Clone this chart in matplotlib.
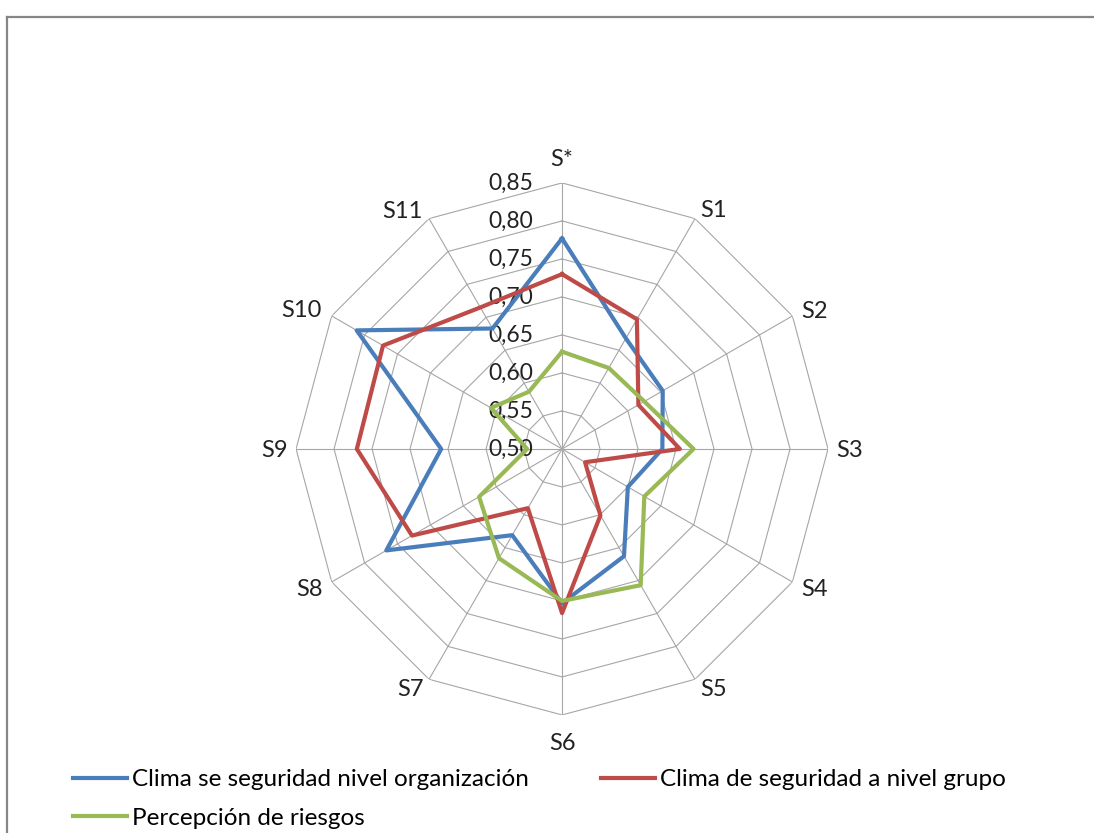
import numpy as np
import matplotlib
matplotlib.use("Agg")
import matplotlib.pyplot as plt
from matplotlib.lines import Line2D
from matplotlib.transforms import offset_copy

plt.rcParams['font.family'] = ['Lato', 'DejaVu Sans']

# data
cats = ['S*', 'S1', 'S2', 'S3', 'S4', 'S5', 'S6', 'S7', 'S8', 'S9', 'S10', 'S11']
org = [0.777, 0.668, 0.653, 0.632, 0.600, 0.663, 0.703, 0.631, 0.767, 0.659, 0.812, 0.683]
grupo = [0.730, 0.697, 0.616, 0.655, 0.535, 0.601, 0.716, 0.590, 0.728, 0.770, 0.772, 0.715]
riesgo = [0.628, 0.623, 0.625, 0.673, 0.625, 0.707, 0.700, 0.666, 0.626, 0.546, 0.608, 0.587]
ticks = [0.50, 0.55, 0.60, 0.65, 0.70, 0.75, 0.80, 0.85]
names = ['Clima se seguridad nivel organización',
         'Clima de seguridad a nivel grupo',
         'Percepción de riesgos']
colors = ['#4A7EBB', '#BE4B48', '#98B954']

# label placement around the outer ring (pixel offsets from each spoke end)
lab_dx = [0, 5, 9, 8, 9, 5, 0, -5, -9, -8, -10, -6]
lab_dy = [17, 2, -2, -8, -14, -17, -35, -17, -14, -8, -1, 1]
lab_ha = ['center', 'left', 'left', 'left', 'left', 'left',
          'center', 'right', 'right', 'right', 'right', 'right']

rmin, rmax = ticks[0], ticks[-1]
n = len(cats)
ang = np.linspace(0, 2 * np.pi, n, endpoint=False)
ang_c = np.append(ang, ang[0])

fig = plt.figure(figsize=(10.94, 8.33), dpi=100)
ax = fig.add_axes([0.2706, 0.1417, 0.4863, 0.6387], polar=True)
ax.set_theta_zero_location('N')
ax.set_theta_direction(-1)
ax.set_ylim(rmin, rmax)
ax.grid(False)
ax.spines['polar'].set_visible(False)
ax.set_xticks([])
ax.set_yticks([])

# polygon web
for t in ticks[1:]:
    ax.plot(ang_c, [t] * (n + 1), color='#A6A6A6', lw=0.8, zorder=1)
for a in ang:
    ax.plot([a, a], [rmin, rmax], color='#A6A6A6', lw=0.8, zorder=1)

handles = []
for vals, col, nm in zip([org, grupo, riesgo], colors, names):
    v = np.append(vals, vals[0])
    ln, = ax.plot(ang_c, v, color=col, lw=3, zorder=3, label=nm)
    handles.append(ln)

# category labels
for a, c, dx, dy, ha in zip(ang, cats, lab_dx, lab_dy, lab_ha):
    tr = offset_copy(ax.transData, fig=fig, x=dx, y=dy, units='dots')
    ax.text(a, rmax, c, ha=ha, va='baseline', fontsize=17,
            color='#222222', transform=tr)

# radial values, left of the top spoke
tr = offset_copy(ax.transData, fig=fig, x=-29, y=0, units='dots')
for t in ticks:
    ax.text(0, t, '{:.2f}'.format(t).replace('.', ','),
            ha='right', va='center', fontsize=16.5, color='#222222',
            transform=tr, zorder=2)

fig.legend(handles=[handles[0], handles[2], handles[1]],
           labels=[names[0], names[2], names[1]],
           ncol=2, loc='upper left', bbox_to_anchor=(0.058, 0.088),
           frameon=False, fontsize=17.5, handlelength=2.2, handletextpad=0.2,
           columnspacing=3.0, labelspacing=0.72, borderaxespad=0)

# outer frame
fig.add_artist(Line2D([7 / 1094, 1.0], [1 - 17 / 833, 1 - 17 / 833],
                      transform=fig.transFigure, color='#868686', lw=1.6))
fig.add_artist(Line2D([7 / 1094, 7 / 1094], [0, 1 - 17 / 833],
                      transform=fig.transFigure, color='#868686', lw=1.6))

fig.savefig('out.png', dpi=100)
